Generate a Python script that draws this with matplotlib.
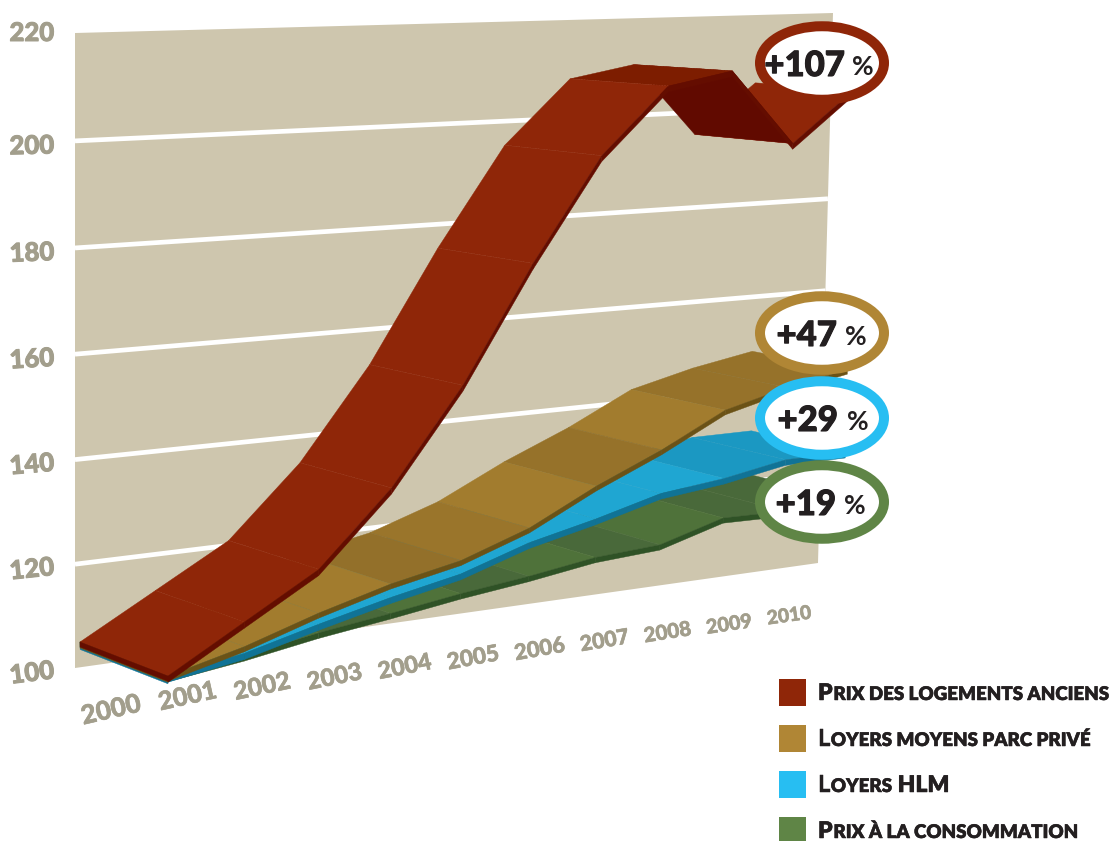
import matplotlib
matplotlib.use('Agg')
import matplotlib.pyplot as plt
from matplotlib.patches import Ellipse, Polygon, Rectangle
import matplotlib.patheffects as pe
import numpy as np

plt.rcParams['font.family'] = ['Lato', 'DejaVu Sans']

# indice base 100 en 2000
years = [2000, 2001, 2002, 2003, 2004, 2005, 2006, 2007, 2008, 2009, 2010]
prix_logements = [100, 108.5, 117, 131.5, 150.6, 174, 195, 208.7, 211.5, 196, 207]
loyers_prives = [100, 103.7, 108.4, 112.4, 115.4, 120.4, 127.5, 133.6, 140.7, 144.3, 147]
loyers_hlm = [100, 102.4, 106.2, 109.7, 112.7, 117.4, 120.7, 124.5, 126.2, 128.8, 129]
prix_conso = [100, 102, 104.5, 106.5, 108.7, 110.5, 112.7, 113.7, 117.8, 117.7, 119]
y_ticks = [100, 120, 140, 160, 180, 200, 220]
legend_labels = ['Prix des logements anciens', 'Loyers moyens parc privé', 'Loyers HLM', 'Prix à la consommation']
end_labels = ['+107', '+47', '+29', '+19']

RED, GOLD, BLUE, GREEN = '#8f2608', '#b08635', '#27bef2', '#5f8546'
INK = '#231f20'
AXIS_GREY = '#a29e8c'


def make_plane(p00, p10, p11, p01):
    # perspective plane through four corners, year index 0-10 and value 100-220
    (x0, y0), (x1, y1), (x2, y2), (x3, y3) = p00, p10, p11, p01
    sx, sy = x0 - x1 + x2 - x3, y0 - y1 + y2 - y3
    dx1, dx2, dy1, dy2 = x1 - x2, x3 - x2, y1 - y2, y3 - y2
    den = dx1 * dy2 - dx2 * dy1
    g = (sx * dy2 - dx2 * sy) / den
    h = (dx1 * sy - sx * dy1) / den
    return np.array([[x1 - x0 + g * x1, x3 - x0 + h * x3, x0],
                     [y1 - y0 + g * y1, y3 - y0 + h * y3, y0],
                     [g, h, 1.0]])


def project(plane, i, v):
    p = plane @ np.array([i / 10, (v - 100) / 120, 1.0])
    return p[0] / p[2], p[1] / p[2]


def fat(width, color):
    # Lato n'a pas de graisse assez forte ici, on épaissit au trait
    return [pe.withStroke(linewidth=width, foreground=color)]


wall = make_plane((75, 668), (818, 563), (833, 13), (75, 33))
back = make_plane((80, 642), (750, 558), (756, 24), (72, 30))
front = make_plane((168, 676), (842, 585), (856, 28), (168, 37))

fig = plt.figure(figsize=(11.16, 8.41), dpi=100)
ax = fig.add_axes([0, 0, 1, 1])
ax.set_xlim(0, 1116)
ax.set_ylim(841, 0)
ax.axis('off')

# fond et grille
ax.add_patch(Polygon([project(wall, 0, 100), project(wall, 10, 100), project(wall, 10, 220), project(wall, 0, 220)],
                     closed=True, fc='#cec6ae', ec='none', zorder=1))
for v in y_ticks[1:-1]:
    a, b = project(wall, 0, v), project(wall, 10, v)
    ax.plot([a[0], b[0]], [a[1], b[1]], color='white', lw=3.4, solid_capstyle='butt', zorder=2)
for v in y_ticks:
    x, y = project(wall, 0, v)
    ax.text(32, y + 5 if v < 220 else y, str(v), color=AXIS_GREY, fontsize=18.5, fontweight=900,
            ha='center', va='center', rotation=(220 - v) * 0.06, zorder=3,
            path_effects=fat(0.7, AXIS_GREY))

for i, year in enumerate(years):
    x, y = project(front, i, 100)
    ax.text(x - 57 + 0.4 * i, y + 31 + (3 if i == 0 else 0), str(year), color=AXIS_GREY,
            fontsize=18.8 - 0.5 * i, fontweight=900, ha='center', va='center',
            rotation=13 - 0.5 * i, rotation_mode='anchor', zorder=3,
            path_effects=fat(0.4, AXIS_GREY))


def draw_ribbon(values, shades, edge, dash, thick, cap, z):
    # de droite à gauche pour que les plis recouvrent la suite du ruban
    for k in range(len(values) - 2, -1, -1):
        pts = [project(back, k, values[k]), project(front, k, values[k]),
               project(front, k + 1, values[k + 1]), project(back, k + 1, values[k + 1])]
        ax.add_patch(Polygon(pts, closed=True, fc=shades[k], ec=shades[k], lw=0.3, zorder=z))
        strip = [project(front, k, values[k]), project(front, k + 1, values[k + 1]),
                 project(front, k + 1, values[k + 1] - thick), project(front, k, values[k] - thick)]
        ax.add_patch(Polygon(strip, closed=True, fc=edge, ec=edge, lw=0.3, zorder=z))
        if k > 0:
            a, b = project(back, k, values[k]), project(front, k, values[k])
            ax.plot([a[0], b[0]], [a[1], b[1]], color=dash, lw=0.4, ls=(0, (3, 2)), zorder=z)
    end = [project(back, 0, values[0]), project(front, 0, values[0]),
           project(front, 0, values[0] - cap), project(back, 0, values[0] - cap)]
    ax.add_patch(Polygon(end, closed=True, fc=edge, ec=edge, lw=0.3, zorder=z))


draw_ribbon(prix_conso, ['#4f723a', '#4f723a', '#49693a', '#4f723a', '#49693a', '#4f723a', '#49693a', '#4f723a', '#49693a', '#49693a'],
            '#2f5226', '#6f8c5c', 1.1, 1.1, 4)
draw_ribbon(loyers_hlm, ['#1fa6d2'] * 8 + ['#1b98c2', '#1b98c2'], '#107396', '#4fb4d4', 1.2, 1.5, 5)
draw_ribbon(loyers_prives, ['#a27c2e', '#a27c2e', '#a27c2e', '#93702a', '#9a752b', '#a27c2e', '#96722a', '#a27c2e', '#96722a', '#96722a'],
            '#6b5216', '#7d7a50', 1.0, 1.2, 6)
draw_ribbon(prix_logements, ['#8f2608'] * 7 + ['#7d1d00', '#610a00', '#8f2608'], '#640d00', '#b5604a', 1.2, 1.0, 7)

# pastilles de fin de courbe
for cy, txt, col, xr, xp in zip([63, 333, 418, 502], end_labels, [RED, GOLD, BLUE, GREEN],
                                [845, 837, 838, 836], [852, 845, 847, 844]):
    ax.add_patch(Ellipse((822, cy), 124, 73.5, fc='white', ec=col, lw=7.2, zorder=8))
    ax.text(xr, cy + 3, txt, color=INK, fontsize=25, fontweight=900, ha='right', va='center', zorder=9,
            path_effects=fat(0.8, INK))
    ax.text(xp, cy + 4, '%', color=INK, fontsize=19, fontweight=700, ha='left', va='center', zorder=9)


def small_caps(x, y, label, big=16.5, small=13.5):
    # petites capitales : chaque groupe de lettres est posé à la suite du précédent
    renderer = fig.canvas.get_renderer()
    run, runs = '', []
    for c in label:
        is_big = c.isupper()
        if run and is_big != run_big:
            runs.append((run, run_big))
            run = ''
        run += c
        run_big = is_big
    runs.append((run, run_big))
    for s, is_big in runs:
        t = ax.text(x, y, s.upper(), color=INK, fontsize=big if is_big else small, fontweight=800,
                    ha='left', va='baseline', zorder=9, path_effects=fat(0.35, INK))
        x += t.get_window_extent(renderer).width + 0.8


for k, (label, col) in enumerate(zip(legend_labels, [RED, GOLD, BLUE, GREEN])):
    ax.add_patch(Rectangle((779, 679 + 46 * k), 27, 27, fc=col, ec='none', zorder=9))
    small_caps(818, 700 + 46 * k, label)

fig.savefig('out.png', dpi=100)
